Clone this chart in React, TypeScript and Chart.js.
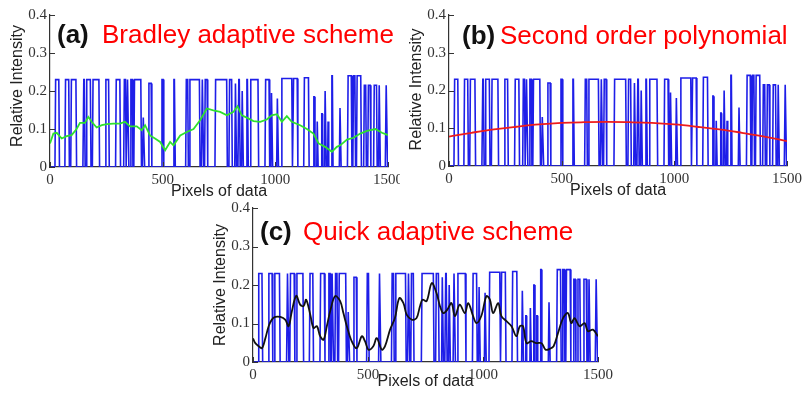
import React, { useEffect, useRef } from "react";
import { Chart, registerables } from "chart.js";
Chart.register(...registerables);

// ---- data ----
const xTicks = [0, 500, 1000, 1500];
const yTicks = [0, 0.1, 0.2, 0.3, 0.4];

// blue line-profile signal, read as pulses (start, end, height)
const pulseStart = [22, 66, 92, 146, 160, 188, 245, 291, 327, 340, 356, 372, 410, 436, 494, 546, 602, 618, 672, 686, 732, 794, 820, 834, 850, 870, 888, 954, 980, 1006, 1026, 1078, 1126, 1168, 1184, 1204, 1218, 1232, 1248, 1284, 1320, 1344, 1360, 1392, 1410, 1436, 1458, 1488];
const pulseEnd = [42, 86, 118, 156, 182, 220, 263, 313, 338, 350, 368, 406, 420, 452, 505, 556, 614, 666, 682, 700, 787, 809, 828, 844, 858, 880, 926, 975, 988, 1014, 1076, 1100, 1150, 1176, 1190, 1210, 1226, 1238, 1256, 1292, 1340, 1356, 1382, 1404, 1424, 1452, 1466, 1498];
const pulseHeight = [0.23, 0.23, 0.23, 0.23, 0.23, 0.23, 0.23, 0.23, 0.23, 0.23, 0.23, 0.23, 0.13, 0.22, 0.23, 0.23, 0.23, 0.23, 0.23, 0.23, 0.23, 0.23, 0.22, 0.23, 0.2, 0.23, 0.23, 0.23, 0.195, 0.18, 0.233, 0.233, 0.235, 0.185, 0.12, 0.14, 0.2, 0.12, 0.24, 0.155, 0.24, 0.24, 0.24, 0.215, 0.215, 0.215, 0.215, 0.215];

const bradleyX = [0, 15, 30, 52, 74, 96, 118, 133, 155, 170, 185, 207, 230, 252, 281, 311, 333, 355, 385, 407, 422, 444, 466, 489, 511, 533, 548, 578, 607, 637, 666, 696, 725, 755, 785, 814, 832, 851, 873, 903, 933, 962, 984, 1007, 1029, 1051, 1073, 1110, 1140, 1169, 1192, 1221, 1251, 1273, 1288, 1318, 1347, 1377, 1407, 1444, 1473, 1500];
const bradleyY = [0.062, 0.088, 0.09, 0.075, 0.081, 0.084, 0.10, 0.116, 0.116, 0.132, 0.119, 0.104, 0.11, 0.113, 0.114, 0.114, 0.119, 0.107, 0.107, 0.097, 0.11, 0.083, 0.075, 0.066, 0.044, 0.066, 0.057, 0.083, 0.092, 0.10, 0.123, 0.154, 0.149, 0.145, 0.136, 0.145, 0.16, 0.136, 0.13, 0.121, 0.119, 0.125, 0.136, 0.139, 0.119, 0.134, 0.119, 0.11, 0.10, 0.088, 0.062, 0.053, 0.04, 0.053, 0.057, 0.072, 0.077, 0.088, 0.095, 0.10, 0.09, 0.084];

const polyX = [0, 100, 200, 300, 400, 500, 600, 700, 800, 900, 1000, 1100, 1200, 1300, 1400, 1500];
const polyY = [0.078, 0.088, 0.097, 0.104, 0.110, 0.114, 0.116, 0.117, 0.116, 0.114, 0.110, 0.104, 0.097, 0.088, 0.078, 0.066];

const quickX = [0, 10, 25, 39, 54, 68, 82, 97, 119, 140, 155, 169, 188, 205, 220, 231, 249, 263, 278, 292, 307, 321, 338, 357, 379, 393, 408, 429, 451, 473, 487, 502, 523, 538, 560, 574, 596, 617, 636, 654, 668, 690, 711, 726, 737, 755, 777, 798, 813, 827, 845, 863, 878, 899, 921, 936, 957, 972, 993, 1015, 1030, 1044, 1066, 1080, 1102, 1124, 1145, 1160, 1174, 1189, 1210, 1232, 1254, 1272, 1290, 1307, 1326, 1348, 1369, 1384, 1398, 1420, 1442, 1456, 1478, 1500];
const quickY = [0.061, 0.049, 0.041, 0.036, 0.062, 0.093, 0.11, 0.117, 0.117, 0.11, 0.093, 0.132, 0.172, 0.149, 0.145, 0.162, 0.123, 0.088, 0.093, 0.067, 0.058, 0.093, 0.138, 0.171, 0.158, 0.127, 0.093, 0.054, 0.036, 0.067, 0.054, 0.032, 0.041, 0.062, 0.032, 0.041, 0.084, 0.114, 0.166, 0.153, 0.123, 0.11, 0.114, 0.145, 0.162, 0.158, 0.205, 0.179, 0.145, 0.127, 0.136, 0.153, 0.119, 0.149, 0.127, 0.153, 0.119, 0.101, 0.12, 0.171, 0.162, 0.127, 0.153, 0.119, 0.106, 0.093, 0.067, 0.093, 0.093, 0.049, 0.054, 0.049, 0.049, 0.032, 0.034, 0.041, 0.075, 0.114, 0.127, 0.101, 0.114, 0.093, 0.101, 0.08, 0.084, 0.067];

// ---- helpers ----
function buildSignal() {
  const pts: { x: number; y: number }[] = [{ x: 0, y: 0 }];
  for (let i = 0; i < pulseStart.length; i++) {
    const s = pulseStart[i], e = pulseEnd[i], h = pulseHeight[i];
    if (e - s <= 10) {
      const m = (s + e) / 2;
      pts.push({ x: s, y: 0 }, { x: m - 1, y: h }, { x: m + 1, y: h }, { x: e, y: 0 });
    } else {
      pts.push({ x: s, y: 0 }, { x: s + 3, y: h }, { x: e - 3, y: h }, { x: e, y: 0 });
    }
  }
  pts.push({ x: 1500, y: 0.05 });
  return pts;
}
function zip(xs: number[], ys: number[]) {
  return xs.map((x, i) => ({ x, y: ys[i] }));
}

const SANS = '"Liberation Sans", Arial, Helvetica, sans-serif';
const SERIF = '"Liberation Serif", "Times New Roman", serif';

const panelPlugin = {
  id: "panel",
  afterDraw(chart: any, _args: any, o: any) {
    const { ctx, chartArea } = chart;
    const { left, right, top, bottom } = chartArea;
    const x = chart.scales.x, y = chart.scales.y;
    ctx.save();
    ctx.strokeStyle = "#333";
    ctx.lineWidth = 1;
    for (const v of yTicks) {
      const py = Math.round(y.getPixelForValue(v)) + 0.5;
      ctx.beginPath();
      ctx.moveTo(left, py);
      ctx.lineTo(left + 5, py);
      ctx.stroke();
    }
    for (const v of xTicks) {
      const px = Math.round(x.getPixelForValue(v)) + 0.5;
      ctx.beginPath();
      ctx.moveTo(px, bottom);
      ctx.lineTo(px, bottom - 5);
      ctx.stroke();
    }
    ctx.fillStyle = "#222";
    ctx.font = `16px ${SANS}`;
    ctx.textAlign = "center";
    ctx.textBaseline = "middle";
    ctx.fillText("Pixels of data", (left + right) / 2, bottom + o.xTitleOff);
    ctx.save();
    ctx.translate(left - o.yTitleOff, (top + bottom) / 2 + o.yTitleShift);
    ctx.rotate(-Math.PI / 2);
    ctx.fillText("Relative Intensity", 0, 0);
    ctx.restore();
    ctx.textAlign = "left";
    ctx.textBaseline = "alphabetic";
    ctx.fillStyle = "#111";
    ctx.font = `bold 26px ${SANS}`;
    ctx.fillText(o.tag, o.tagX, o.baseY);
    ctx.fillStyle = "#ff0000";
    ctx.font = `26px ${SANS}`;
    ctx.fillText(o.title, o.titleX, o.baseY);
    ctx.restore();
  },
};

type PanelProps = {
  left: number; top: number; width: number; height: number;
  area: { l: number; r: number; t: number; b: number };
  overlay: { x: number; y: number }[];
  overlayColor: string;
  tension: number;
  tag: string; title: string; tagX: number; titleX: number; baseY: number;
  xTitleOff: number; yTitleOff: number; yTitleShift: number;
};

function Panel(p: PanelProps) {
  const ref = useRef<HTMLCanvasElement | null>(null);
  useEffect(() => {
    if (!ref.current) return;
    const chart = new Chart(ref.current, {
      type: "line",
      data: {
        datasets: [
          {
            data: p.overlay,
            borderColor: p.overlayColor,
            borderWidth: 1.8,
            pointRadius: 0,
            tension: p.tension,
          },
          {
            data: buildSignal(),
            borderColor: "rgb(30,30,232)",
            borderWidth: 1.6,
            pointRadius: 0,
            tension: 0,
          },
        ],
      },
      options: {
        animation: false,
        responsive: false,
        devicePixelRatio: 1,
        layout: {
          autoPadding: false,
          padding: { left: 0, top: p.area.t, right: p.width - p.area.r, bottom: 0 },
        },
        plugins: {
          legend: { display: false },
          tooltip: { enabled: false },
          panel: {
            tag: p.tag, title: p.title, tagX: p.tagX, titleX: p.titleX, baseY: p.baseY,
            xTitleOff: p.xTitleOff, yTitleOff: p.yTitleOff, yTitleShift: p.yTitleShift,
          },
        } as any,
        scales: {
          x: {
            type: "linear",
            min: 0,
            max: 1500,
            afterFit: (s: any) => {
              s.height = p.height - p.area.b;
              s.paddingLeft = 0;
              s.paddingRight = 0;
            },
            grid: { display: false, drawTicks: false },
            border: { display: true, color: "#333", width: 1.2 },
            ticks: {
              stepSize: 500,
              maxRotation: 0,
              autoSkip: false,
              padding: 4,
              color: "#333",
              font: { family: SERIF, size: 15 },
              callback: (v: any) => String(v),
            },
          },
          y: {
            type: "linear",
            min: 0,
            max: 0.4,
            afterFit: (s: any) => {
              s.width = p.area.l;
              s.paddingTop = 0;
              s.paddingBottom = 0;
            },
            grid: { display: false, drawTicks: false },
            border: { display: true, color: "#333", width: 1.2 },
            ticks: {
              stepSize: 0.1,
              padding: 3,
              color: "#333",
              font: { family: SERIF, size: 15 },
              callback: (v: any) => String(Math.round(v * 10) / 10),
            },
          },
        },
      },
      plugins: [panelPlugin],
    } as any);
    return () => chart.destroy();
  }, []);
  return (
    <canvas
      ref={ref}
      width={p.width}
      height={p.height}
      style={{ position: "absolute", left: p.left, top: p.top, width: p.width, height: p.height }}
    />
  );
}

export default function App() {
  return (
    <div style={{ position: "fixed", left: 0, top: 0, width: 803, height: 394, background: "#fff", overflow: "hidden" }}>
      <Panel
        left={0} top={0} width={400} height={205}
        area={{ l: 50, r: 388, t: 15, b: 167 }}
        overlay={zip(bradleyX, bradleyY)} overlayColor="#2ee02e" tension={0}
        tag="(a)" title="Bradley adaptive scheme" tagX={57} titleX={102} baseY={43}
        xTitleOff={25} yTitleOff={32} yTitleShift={-5}
      />
      <Panel
        left={400} top={0} width={403} height={205}
        area={{ l: 49, r: 387, t: 15, b: 166 }}
        overlay={zip(polyX, polyY)} overlayColor="#ee1c1c" tension={0.4}
        tag="(b)" title="Second order polynomial" tagX={62} titleX={100} baseY={44}
        xTitleOff={25} yTitleOff={32} yTitleShift={-1}
      />
      <Panel
        left={200} top={193} width={430} height={201}
        area={{ l: 53, r: 398, t: 15, b: 169 }}
        overlay={zip(quickX, quickY)} overlayColor="#111" tension={0.35}
        tag="(c)" title="Quick adaptive scheme" tagX={60} titleX={103} baseY={47}
        xTitleOff={20} yTitleOff={32} yTitleShift={0}
      />
    </div>
  );
}
